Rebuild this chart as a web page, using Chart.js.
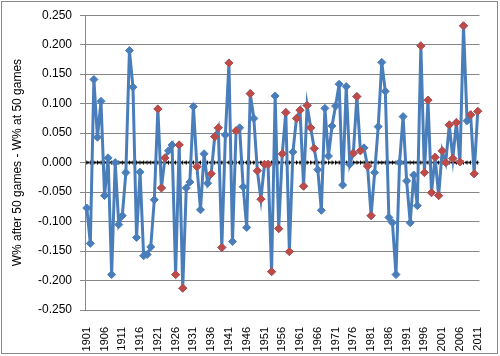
<!DOCTYPE html>
<html><head><meta charset="utf-8">
<script src="https://cdn.jsdelivr.net/npm/chart.js@4.4.0/dist/chart.umd.min.js"></script>
<style>html,body{margin:0;padding:0;background:#fff;}#wrap{width:500px;height:356px;}</style>
</head><body><div id="wrap"><canvas id="c" width="500" height="356"></canvas></div>
<script>
const years = [1901,1902,1903,1904,1905,1906,1907,1908,1909,1910,1911,1912,1913,1914,1915,1916,1917,1918,1919,1920,
1921,1922,1923,1924,1925,1926,1927,1928,1929,1930,1931,1932,1933,1934,1935,1936,1937,1938,1939,1940,
1941,1942,1943,1944,1945,1946,1947,1948,1949,1950,1951,1952,1953,1954,1955,1956,1957,1958,1959,1960,
1961,1962,1963,1964,1965,1966,1967,1968,1969,1970,1971,1972,1973,1974,1975,1976,1977,1978,1979,1980,
1981,1982,1983,1984,1985,1986,1987,1988,1989,1990,1991,1992,1993,1994,1995,1996,1997,1998,1999,2000,
2001,2002,2003,2004,2005,2006,2007,2008,2009,2010,2011];
const values = [-0.077,-0.137,0.141,0.043,0.104,-0.056,0.008,-0.190,0.000,-0.105,-0.090,-0.017,0.190,0.128,-0.127,-0.016,-0.158,-0.156,-0.143,-0.063,
0.091,-0.043,0.008,0.020,0.030,-0.190,0.030,-0.213,-0.043,-0.033,0.095,-0.007,-0.080,0.015,-0.035,-0.019,0.044,0.059,-0.144,0.047,
0.169,-0.134,0.054,0.059,-0.041,-0.110,0.117,0.075,-0.014,-0.062,-0.003,-0.003,-0.185,0.113,-0.112,0.015,0.085,-0.151,0.018,0.075,
0.089,-0.040,0.097,0.059,0.024,-0.012,-0.081,0.092,0.011,0.062,0.096,0.133,-0.038,0.129,-0.003,0.016,0.112,0.020,0.025,-0.006,
-0.090,-0.017,0.061,0.170,0.121,-0.093,-0.102,-0.190,0.000,0.078,-0.031,-0.102,-0.021,-0.073,0.198,-0.017,0.106,-0.051,0.009,-0.056,
0.020,0.000,0.064,0.007,0.068,0.001,0.232,0.071,0.081,-0.019,0.087];
const redYears = [1921,1922,1923,1926,1927,1928,1932,1936,1937,1938,1939,1941,1943,1947,1949,1950,1951,1952,1953,
1955,1956,1957,1958,1960,1961,1962,1963,1964,1965,1976,1977,1978,1980,1981,
1995,1996,1997,1998,1999,2000,2001,2002,2003,2004,2005,2006,2007,2009,2010,2011];
const zeroLine = years.map(() => 0);
const tickLabels = ['1901','1906','1911','1916','1921','1926','1931','1936','1941','1946','1951','1956','1961','1966','1971','1976','1981','1986','1991','1996','2001','2006','2011'];
const yTitle = 'W% after 50 games - W% at 50 games';

const redValues = years.map((y, i) => redYears.includes(y) ? values[i] : null);
const BLUE = '#4A7EBB', RED = '#BE4B48', GRID = '#868686';
const FONT = 'Liberation Sans, Arial, sans-serif';

const frame = {
  id: 'frame',
  beforeDraw(c) { const x = c.ctx; x.save(); x.fillStyle = '#fff'; x.fillRect(0, 0, c.width, c.height); x.restore(); },
  afterDraw(c) { const x = c.ctx; x.save(); x.strokeStyle = '#888'; x.lineWidth = 1; x.strokeRect(1.5, 1.5, 496, 352); x.restore(); }
};

new Chart(document.getElementById('c'), {
  type: 'line',
  data: {
    labels: years.map(String),
    datasets: [
      { data: redValues, showLine: false, pointStyle: 'rectRot', pointRadius: 4, pointBackgroundColor: RED, pointBorderColor: RED, pointBorderWidth: 1, order: 0 },
      { data: values, borderColor: BLUE, borderWidth: 3, tension: 0, pointStyle: 'rectRot', pointRadius: 4, pointBackgroundColor: BLUE, pointBorderColor: BLUE, pointBorderWidth: 1, order: 1 },
      { data: zeroLine, borderColor: '#000', borderWidth: 2, borderDash: [2.6, 1], pointStyle: 'line', pointRotation: 90, pointRadius: 2, pointBorderColor: '#000', pointBorderWidth: 1, order: 2 }
    ]
  },
  options: {
    responsive: false, animation: false,
    layout: { padding: { left: 0, right: 16, top: 15, bottom: 0 } },
    plugins: { legend: { display: false }, tooltip: { enabled: false } },
    scales: {
      x: {
        type: 'category', offset: true,
        grid: { display: false },
        border: { display: true, color: GRID, width: 1 },
        ticks: {
          autoSkip: false, maxRotation: 90, minRotation: 90, color: '#000', padding: 9,
          font: { family: FONT, size: 11 },
          callback: function (v) { const l = this.getLabelForValue(v); return tickLabels.includes(l) ? l : null; }
        },
        afterFit(s) { s.height = 46; }
      },
      y: {
        min: -0.25, max: 0.25,
        ticks: { stepSize: 0.05, color: '#000', padding: 8, font: { family: FONT, size: 12 }, callback: v => (Math.round(v * 1000) / 1000).toFixed(3) },
        grid: { color: GRID, tickLength: 5 },
        border: { color: GRID },
        title: { display: true, text: yTitle, color: '#000', font: { family: FONT, size: 12 }, padding: { top: 10, bottom: 0 } },
        afterFit(s) { s.width = 85; }
      }
    }
  },
  plugins: [frame]
});
</script></body></html>
